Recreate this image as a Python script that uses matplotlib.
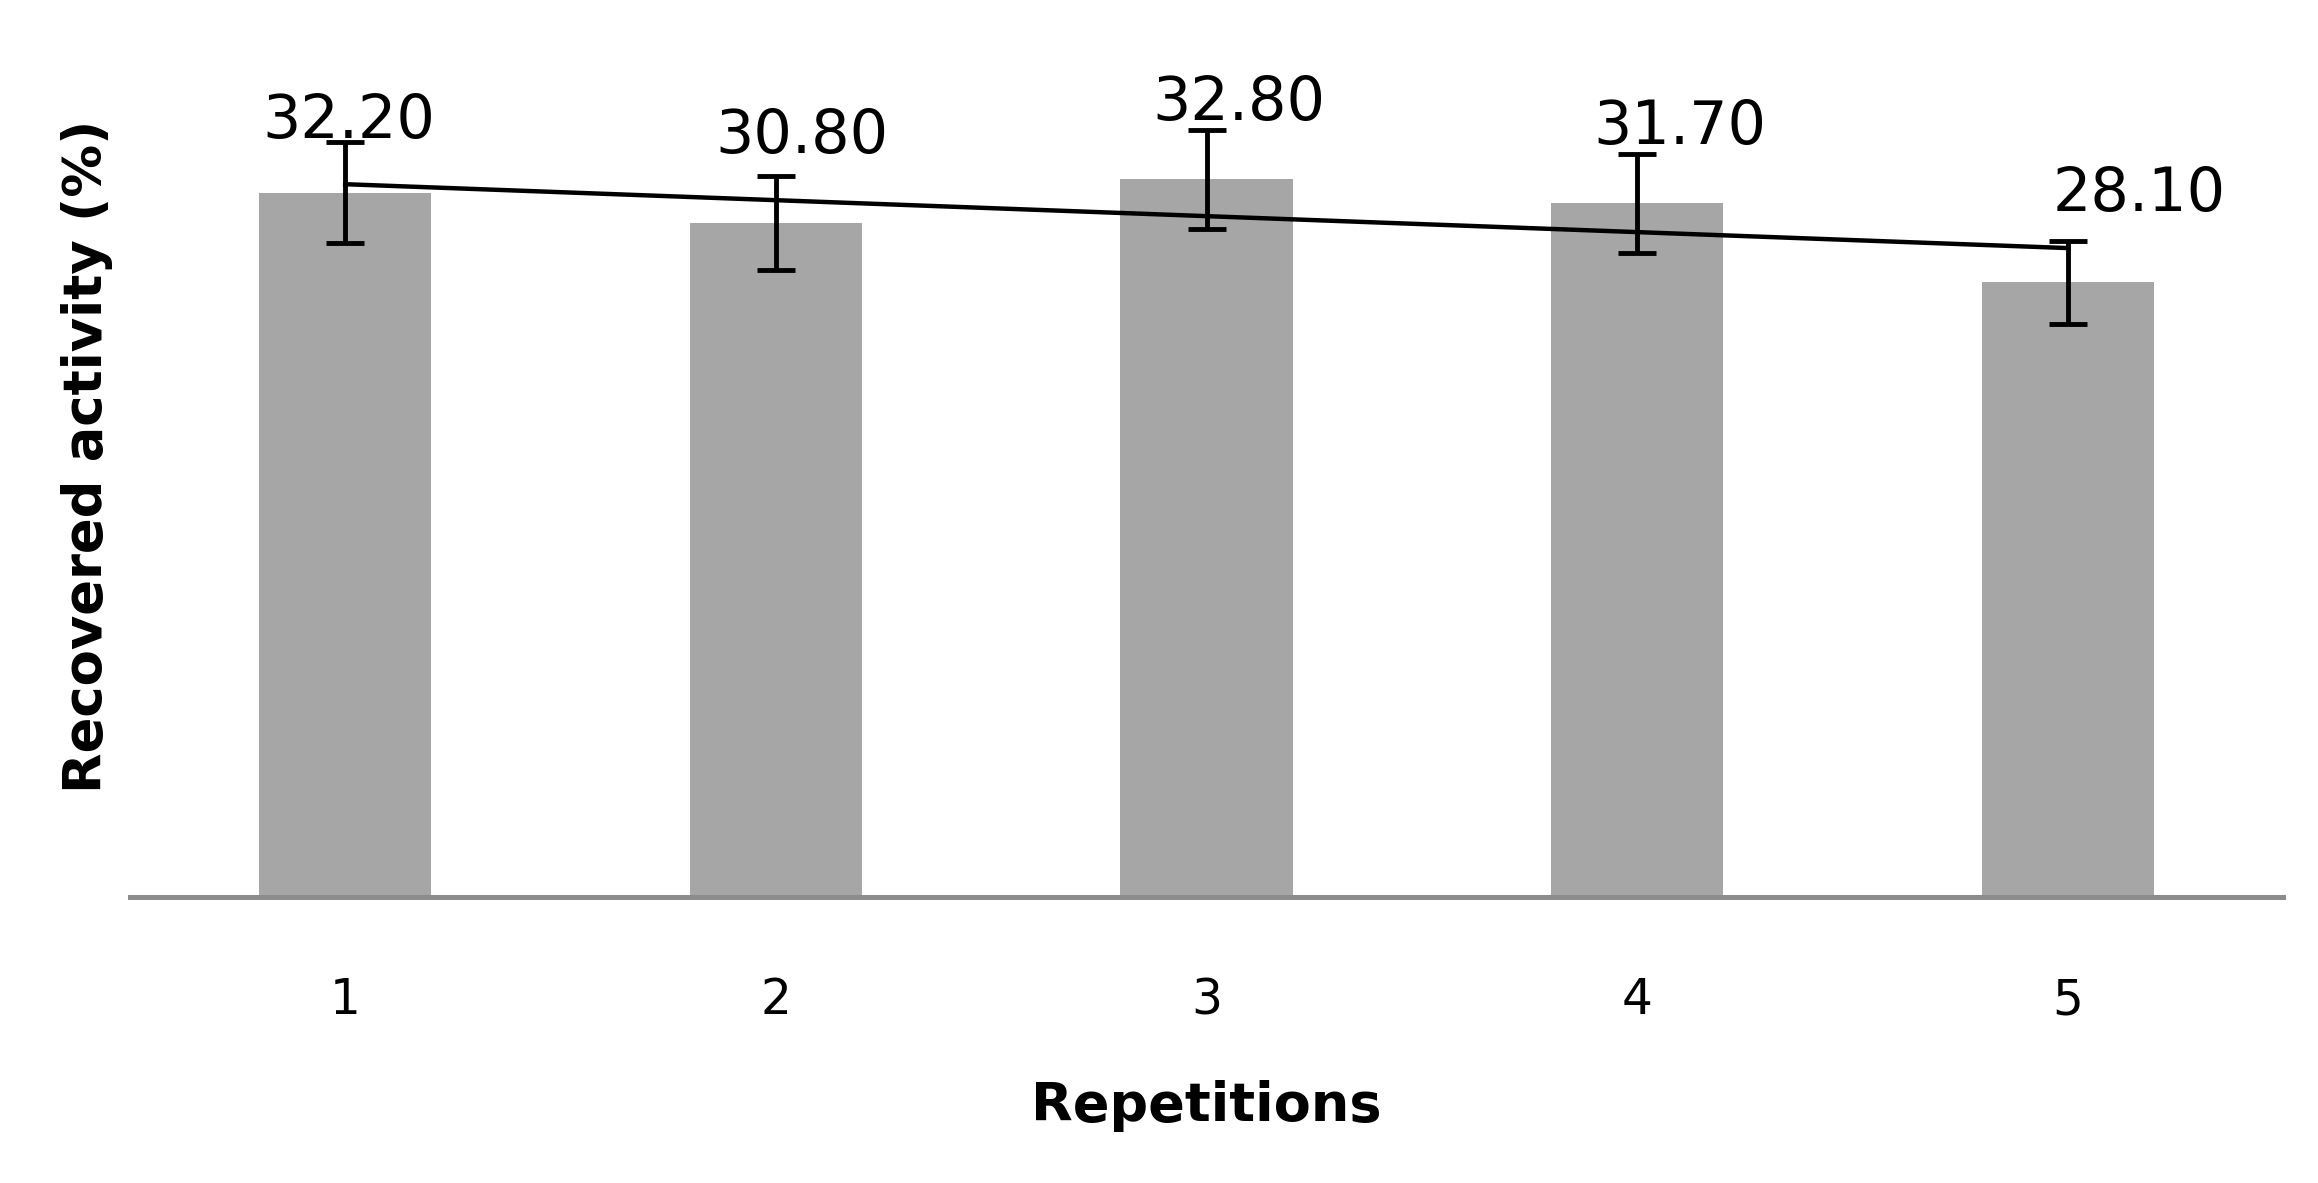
import numpy as np
import matplotlib
matplotlib.use('Agg')
import matplotlib.pyplot as plt

# dados
repeticoes = [1, 2, 3, 4, 5]
atividade = [32.2, 30.8, 32.8, 31.7, 28.1]
erro = [2.3, 2.15, 2.26, 2.28, 1.9]

# deslocamento dos rótulos (pixels), como no original
rot_dx = [4, 26, 32, 43, 71]
rot_dy = [4, 23, 10, 10, 30]

fig = plt.figure(figsize=(23.18, 11.83), dpi=100)
ax = fig.add_axes([0.056, 0.2418, 0.929, 0.7582])

ax.bar(repeticoes, atividade, width=0.40, color='#a6a6a6', zorder=1)
ax.errorbar(repeticoes, atividade, yerr=erro, fmt='none', ecolor='black',
            elinewidth=3.5, capsize=13.5, capthick=3.5, zorder=3)

# linha de tendência linear
coef = np.polyfit(repeticoes, atividade, 1)
xs = np.array([repeticoes[0], repeticoes[-1]])
ax.plot(xs, np.polyval(coef, xs), color='black', linewidth=3.2, zorder=2)

for x, v, e, dx, dy in zip(repeticoes, atividade, erro, rot_dx, rot_dy):
    ax.annotate(f'{v:.2f}', xy=(x, v + e), xytext=(dx, dy),
                textcoords='offset pixels', ha='center', va='baseline',
                fontsize=43.5, color='black')

ax.set_xlim(0.5, 5.5)
ax.set_ylim(0, 41)
ax.set_xticks(repeticoes)
ax.set_xticklabels([str(r) for r in repeticoes], fontsize=35)
ax.tick_params(axis='x', length=0, pad=57)
ax.set_yticks([])

for s in ['top', 'right', 'left']:
    ax.spines[s].set_visible(False)
ax.spines['bottom'].set_color('#8c8c8c')
ax.spines['bottom'].set_linewidth(3.6)

ax.set_xlabel('Repetitions', fontsize=39, fontweight='bold', labelpad=40)
ax.set_ylabel('Recovered activity (%)', fontsize=38, fontweight='bold')
ax.yaxis.set_label_coords(-0.008, 0.491)

fig.savefig('out.png', dpi=100)
